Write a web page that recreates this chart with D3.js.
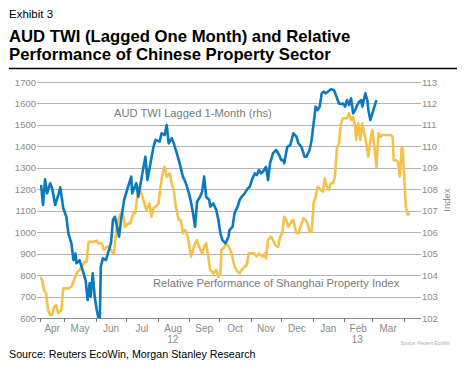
<!DOCTYPE html>
<html>
<head>
<meta charset="utf-8">
<script src="https://cdn.jsdelivr.net/npm/d3@7"></script>
<style>
  body { margin: 0; background: #fff; }
  svg { font-family: Arial, "Liberation Sans", sans-serif; }
</style>
</head>
<body>
<div id="chart"></div>
<script>
// AUD TWI, lagged one month (right axis)
const audTwi = [
  ["2012-04-08",108.2],["2012-04-10",107.27],["2012-04-12",108.46],["2012-04-14",107.81],["2012-04-17",108.28],
  ["2012-04-19",108.04],["2012-04-22",107.27],["2012-04-25",107.73],["2012-04-27",108.09],["2012-04-30",107.11],
  ["2012-05-03",106.72],["2012-05-05",105.95],["2012-05-08",105.48],["2012-05-10",104.7],["2012-05-12",105.01],
  ["2012-05-13",104.55],["2012-05-16",104.7],["2012-05-18",104.39],["2012-05-20",104.08],["2012-05-22",103.77],
  ["2012-05-24",102.84],["2012-05-26",103.62],["2012-05-27",102.99],["2012-05-29",104.08],["2012-05-31",102.99],
  ["2012-06-02",102.37],["2012-06-04",101.9],["2012-06-05",101.9],["2012-06-06",104.39],["2012-06-08",104.78],
  ["2012-06-11",104.7],["2012-06-14",105.17],["2012-06-16",105.48],["2012-06-18",106.57],["2012-06-20",106.72],
  ["2012-06-22",106.25],["2012-06-24",105.79],["2012-06-26",106.57],["2012-06-29",107.5],["2012-07-02",107.97],
  ["2012-07-06",108.59],["2012-07-07",107.81],["2012-07-11",108.28],["2012-07-13",107.65],["2012-07-17",108.74],
  ["2012-07-20",109.52],["2012-07-22",108.43],["2012-07-25",109.21],["2012-07-28",109.98],["2012-07-30",110.3],
  ["2012-08-03",110.22],["2012-08-05",110.61],["2012-08-08",110.53],["2012-08-10",111.0],["2012-08-12",110.14],
  ["2012-08-15",110.38],["2012-08-17",110.14],["2012-08-19",109.83],["2012-08-22",109.36],["2012-08-26",108.59],
  ["2012-08-29",108.28],["2012-09-01",107.81],["2012-09-03",107.4],["2012-09-05",106.88],["2012-09-07",106.25],
  ["2012-09-09",107.42],["2012-09-12",107.65],["2012-09-14",107.89],["2012-09-16",108.59],["2012-09-18",107.65],
  ["2012-09-21",107.5],["2012-09-22",107.19],["2012-09-25",107.34],["2012-09-28",107.03],["2012-09-30",106.57],
  ["2012-10-02",105.95],["2012-10-04",105.63],["2012-10-07",105.48],["2012-10-10",105.79],["2012-10-11",106.1],
  ["2012-10-14",106.25],["2012-10-16",106.88],["2012-10-19",107.19],["2012-10-21",107.5],["2012-10-23",107.65],
  ["2012-10-26",107.81],["2012-10-29",108.04],["2012-10-31",108.12],["2012-11-02",108.43],["2012-11-05",108.74],
  ["2012-11-07",108.66],["2012-11-09",108.9],["2012-11-11",108.74],["2012-11-13",108.82],["2012-11-16",109.05],
  ["2012-11-18",108.43],["2012-11-20",109.21],["2012-11-23",109.68],["2012-11-26",109.83],["2012-11-29",109.6],
  ["2012-12-01",109.36],["2012-12-03",109.36],["2012-12-04",109.21],["2012-12-07",109.98],["2012-12-10",110.06],
  ["2012-12-13",110.61],["2012-12-16",110.45],["2012-12-18",110.14],["2012-12-21",109.98],["2012-12-24",109.52],
  ["2012-12-26",109.52],["2012-12-29",109.83],["2012-12-31",110.3],["2013-01-02",111.07],["2013-01-04",111.85],
  ["2013-01-06",111.69],["2013-01-08",111.85],["2013-01-10",112.47],["2013-01-12",112.55],["2013-01-14",112.47],
  ["2013-01-16",112.55],["2013-01-19",112.66],["2013-01-22",112.63],["2013-01-24",112.39],["2013-01-27",112.0],
  ["2013-01-29",111.97],["2013-01-31",112.0],["2013-02-02",111.85],["2013-02-04",112.16],["2013-02-06",111.93],
  ["2013-02-08",112.24],["2013-02-10",111.54],["2013-02-12",111.69],["2013-02-14",111.93],["2013-02-16",112.08],
  ["2013-02-18",112.16],["2013-02-19",111.85],["2013-02-22",112.47],["2013-02-24",112.16],["2013-02-25",111.69],
  ["2013-02-27",111.23],["2013-03-01",111.54],["2013-03-03",111.85],["2013-03-05",112.16]
];

// Relative performance of Shanghai property index (left axis)
const propIndex = [
  ["2012-04-07",792],["2012-04-09",777],["2012-04-11",730],["2012-04-13",715],["2012-04-15",637],
  ["2012-04-17",614],["2012-04-19",614],["2012-04-21",652],["2012-04-23",660],["2012-04-25",622],
  ["2012-04-28",637],["2012-04-30",738],["2012-05-03",738],["2012-05-05",738],["2012-05-08",746],
  ["2012-05-10",769],["2012-05-13",808],["2012-05-14",816],["2012-05-16",824],["2012-05-18",839],
  ["2012-05-21",862],["2012-05-23",862],["2012-05-25",955],["2012-05-28",955],["2012-05-30",955],
  ["2012-06-02",960],["2012-06-04",948],["2012-06-07",948],["2012-06-09",917],["2012-06-12",932],
  ["2012-06-14",932],["2012-06-17",909],["2012-06-19",901],["2012-06-21",995],["2012-06-23",1057],
  ["2012-06-26",1088],["2012-06-28",1080],["2012-06-30",1025],["2012-07-03",1041],["2012-07-05",1041],
  ["2012-07-08",1088],["2012-07-10",1088],["2012-07-12",1165],["2012-07-14",1212],["2012-07-17",1165],
  ["2012-07-19",1134],["2012-07-21",1103],["2012-07-24",1134],["2012-07-26",1072],["2012-07-28",1111],
  ["2012-07-30",1119],["2012-08-02",1134],["2012-08-04",1212],["2012-08-06",1274],["2012-08-08",1305],
  ["2012-08-10",1259],["2012-08-13",1274],["2012-08-15",1228],["2012-08-17",1197],["2012-08-19",1119],
  ["2012-08-22",1057],["2012-08-24",1057],["2012-08-26",995],["2012-08-28",1010],["2012-08-31",979],
  ["2012-09-03",886],["2012-09-05",917],["2012-09-07",948],["2012-09-09",963],["2012-09-11",932],
  ["2012-09-14",901],["2012-09-16",932],["2012-09-18",948],["2012-09-20",886],["2012-09-22",824],
  ["2012-09-25",808],["2012-09-28",824],["2012-09-30",792],["2012-10-02",800],["2012-10-03",917],
  ["2012-10-06",932],["2012-10-08",948],["2012-10-11",925],["2012-10-13",901],["2012-10-16",839],
  ["2012-10-19",816],["2012-10-21",808],["2012-10-23",824],["2012-10-26",839],["2012-10-28",847],
  ["2012-10-30",901],["2012-11-02",901],["2012-11-04",901],["2012-11-07",886],["2012-11-09",901],
  ["2012-11-11",893],["2012-11-13",886],["2012-11-15",901],["2012-11-16",878],["2012-11-18",963],
  ["2012-11-21",979],["2012-11-23",963],["2012-11-25",940],["2012-11-28",932],["2012-11-30",979],
  ["2012-12-02",995],["2012-12-04",1072],["2012-12-06",1057],["2012-12-08",1025],["2012-12-10",1041],
  ["2012-12-13",1057],["2012-12-16",995],["2012-12-18",995],["2012-12-20",1025],["2012-12-23",1065],
  ["2012-12-25",1057],["2012-12-27",1041],["2012-12-29",1002],["2012-12-31",1002],["2013-01-02",1134],
  ["2013-01-04",1165],["2013-01-06",1212],["2013-01-09",1197],["2013-01-11",1189],["2013-01-13",1251],
  ["2013-01-15",1212],["2013-01-17",1197],["2013-01-19",1228],["2013-01-21",1228],["2013-01-23",1259],
  ["2013-01-25",1391],["2013-01-27",1414],["2013-01-29",1507],["2013-01-31",1531],["2013-02-01",1531],
  ["2013-02-04",1531],["2013-02-06",1554],["2013-02-08",1523],["2013-02-10",1538],["2013-02-12",1492],
  ["2013-02-13",1430],["2013-02-15",1507],["2013-02-17",1430],["2013-02-19",1507],["2013-02-21",1461],
  ["2013-02-23",1414],["2013-02-25",1352],["2013-02-27",1430],["2013-03-01",1476],["2013-03-03",1398],
  ["2013-03-05",1305],["2013-03-07",1461],["2013-03-09",1445],["2013-03-11",1453],["2013-03-14",1453],
  ["2013-03-16",1453],["2013-03-19",1453],["2013-03-21",1445],["2013-03-22",1336],["2013-03-24",1336],
  ["2013-03-26",1328],["2013-03-28",1259],["2013-03-30",1398],["2013-03-31",1383],["2013-04-03",1119],
  ["2013-04-05",1080],["2013-04-07",1088]
];

const leftTicks = [600, 700, 800, 900, 1000, 1100, 1200, 1300, 1400, 1500, 1600, 1700];
const rightTicks = [102, 103, 104, 105, 106, 107, 108, 109, 110, 111, 112, 113];
const monthStarts = ["2012-04-01","2012-05-01","2012-06-01","2012-07-01","2012-08-01","2012-09-01",
  "2012-10-01","2012-11-01","2012-12-01","2013-01-01","2013-02-01","2013-03-01","2013-04-01"];
const monthNames = ["Apr","May","Jun","Jul","Aug","Sep","Oct","Nov","Dec","Jan","Feb","Mar"];
const yearLabels = [["2012-08-16","12"], ["2013-02-14","13"]];

const width = 464, height = 372;
const parse = d3.timeParse("%Y-%m-%d");
const plotL = 40, plotR = 418, plotT = 82, plotB = 318;

const svg = d3.select("#chart").append("svg")
  .attr("width", width).attr("height", height);

// heading
svg.append("text").attr("x", 9).attr("y", 18)
  .style("font-size", "11.5px").attr("fill", "#000").text("Exhibit 3");
svg.append("text").attr("x", 9).attr("y", 41.5)
  .style("font-size", "16.7px").style("font-weight", "bold").attr("fill", "#000")
  .text("AUD TWI (Lagged One Month) and Relative");
svg.append("text").attr("x", 9).attr("y", 60)
  .style("font-size", "16.7px").style("font-weight", "bold").attr("fill", "#000")
  .text("Performance of Chinese Property Sector");
svg.append("line").attr("x1", 9).attr("x2", 457).attr("y1", 68.5).attr("y2", 68.5)
  .attr("stroke", "#000").attr("stroke-width", 1.5);

const x = d3.scaleTime()
  .domain([parse("2012-04-07"), parse("2013-04-15")])
  .range([plotL, plotR]);
const yL = d3.scaleLinear().domain([600, 1700]).range([plotB, plotT]);
const yR = d3.scaleLinear().domain([102, 113]).range([plotB, plotT]);

// grid + left labels
svg.append("g").selectAll("line").data(leftTicks).enter().append("line")
  .attr("x1", plotL - 3).attr("x2", plotR + 3)
  .attr("y1", d => Math.round(yL(d)) + 0.5).attr("y2", d => Math.round(yL(d)) + 0.5)
  .attr("stroke", d => d === 600 ? "#888" : "#b4b4b4").attr("stroke-width", 1);

svg.append("g").selectAll("text").data(leftTicks).enter().append("text")
  .attr("x", plotL - 4).attr("y", d => yL(d) + 3.5)
  .attr("text-anchor", "end").style("font-size", "9.5px").attr("fill", "#8a8a8a")
  .text(d => d);

svg.append("g").selectAll("text").data(rightTicks).enter().append("text")
  .attr("x", plotR + 4).attr("y", d => yR(d) + 3.5)
  .attr("text-anchor", "start").style("font-size", "9.5px").attr("fill", "#8a8a8a")
  .text(d => d);

svg.append("text")
  .attr("transform", `translate(450,${(plotT + plotB) / 2}) rotate(-90)`)
  .attr("text-anchor", "middle").style("font-size", "9.5px").attr("fill", "#8a8a8a")
  .text("Index");

// x ticks at month boundaries
const tickDates = [x.domain()[0]].concat(monthStarts.slice(1).map(parse));
svg.append("g").selectAll("line").data(tickDates).enter().append("line")
  .attr("x1", d => Math.round(x(d)) + 0.5).attr("x2", d => Math.round(x(d)) + 0.5)
  .attr("y1", plotB).attr("y2", plotB + 4)
  .attr("stroke", "#777").attr("stroke-width", 1);

svg.append("g").selectAll("text").data(monthNames).enter().append("text")
  .attr("x", (d, i) => {
    const a = Math.max(x(parse(monthStarts[i])), plotL);
    const b = x(parse(monthStarts[i + 1]));
    return (a + b) / 2;
  })
  .attr("y", 332).attr("text-anchor", "middle")
  .style("font-size", "10px").attr("fill", "#8a8a8a").text(d => d);

svg.append("g").selectAll("text").data(yearLabels).enter().append("text")
  .attr("x", d => x(parse(d[0]))).attr("y", 342.5).attr("text-anchor", "middle")
  .style("font-size", "10px").attr("fill", "#8a8a8a").text(d => d[1]);

// lines
svg.append("clipPath").attr("id", "plot")
  .append("rect").attr("x", plotL).attr("y", plotT - 5).attr("width", plotR - plotL).attr("height", plotB - plotT + 5);

const lineL = d3.line().x(d => x(parse(d[0]))).y(d => yL(d[1]));
const lineR = d3.line().x(d => x(parse(d[0]))).y(d => yR(d[1]));

svg.append("path").datum(propIndex).attr("d", lineL)
  .attr("fill", "none").attr("stroke", "#f6c14a").attr("stroke-width", 2.6)
  .attr("stroke-linejoin", "round").attr("clip-path", "url(#plot)");

svg.append("path").datum(audTwi).attr("d", lineR)
  .attr("fill", "none").attr("stroke", "#0a79be").attr("stroke-width", 2.6)
  .attr("stroke-linejoin", "round").attr("clip-path", "url(#plot)");

// series labels
svg.append("text").attr("x", 114).attr("y", 117)
  .style("font-size", "11.2px").attr("fill", "#7a7a7a")
  .text("AUD TWI Lagged 1-Month (rhs)");
svg.append("text").attr("x", 153).attr("y", 287)
  .style("font-size", "11.2px").attr("fill", "#7a7a7a")
  .text("Relative Performance of Shanghai Property Index");

// footer
svg.append("text").attr("x", 450).attr("y", 345).attr("text-anchor", "end")
  .style("font-size", "4.5px").attr("fill", "#aaa").text("Source: Reuters EcoWin");
svg.append("text").attr("x", 9).attr("y", 358)
  .style("font-size", "10.7px").attr("fill", "#000")
  .text("Source: Reuters EcoWin, Morgan Stanley Research");
</script>
</body>
</html>
